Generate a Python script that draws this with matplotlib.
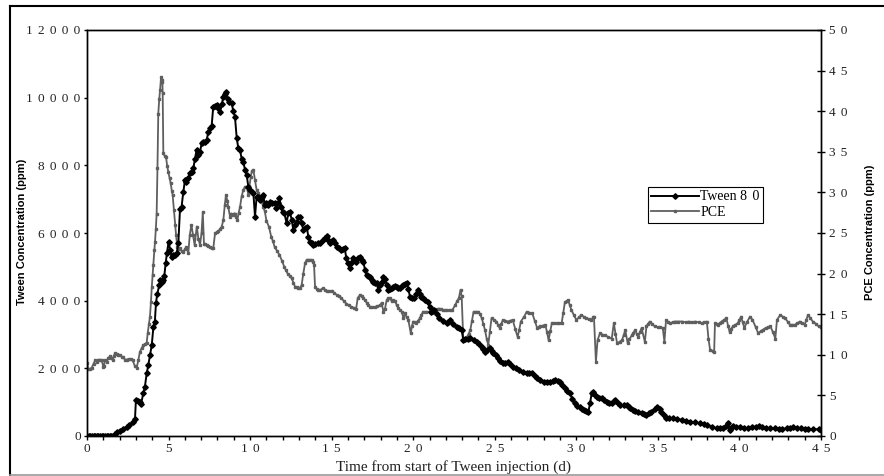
import matplotlib
matplotlib.use("Agg")
import matplotlib.pyplot as plt
from matplotlib.lines import Line2D
from matplotlib.ticker import MultipleLocator, FuncFormatter

# ---- data ----
tween_day = [
    0, 0.1, 0.2, 0.3, 0.4, 0.5, 0.6, 0.7, 0.8, 0.9, 1.0, 1.1, 1.2, 1.3, 1.4, 1.5, 1.6,
    1.72, 1.85, 2.02, 2.2, 2.43, 2.6, 2.84, 2.94, 3.0, 3.1, 3.25, 3.32, 3.45, 3.55,
    3.66, 3.76, 3.87, 3.97, 4.07, 4.16, 4.23, 4.31, 4.43, 4.5, 4.57, 4.66, 4.74, 4.82,
    4.9, 5.0, 5.1, 5.19, 5.3, 5.4, 5.5, 5.6, 5.7, 5.8, 5.9, 6.01, 6.1, 6.21, 6.31,
    6.42, 6.52, 6.62, 6.72, 6.83, 6.93, 7.03, 7.13, 7.24, 7.34, 7.44, 7.54, 7.64,
    7.74, 7.85, 7.95, 8.05, 8.15, 8.26, 8.36, 8.46, 8.52, 8.62, 8.73, 8.87, 8.97,
    9.07, 9.18, 9.28, 9.38, 9.48, 9.58, 9.69, 9.79, 9.89, 10.0, 10.1, 10.2, 10.3,
    10.4, 10.5, 10.6, 10.7, 10.8, 10.9, 11.0, 11.1, 11.2, 11.35, 11.5, 11.6, 11.7,
    11.8, 11.9, 12.0, 12.1, 12.24, 12.34, 12.44, 12.55, 12.65, 12.75, 12.86, 12.96,
    13.06, 13.16, 13.26, 13.37, 13.47, 13.57, 13.67, 13.78, 13.88, 14.0, 14.18,
    14.3, 14.49, 14.6, 14.7, 14.8, 14.9, 15.0, 15.1, 15.2, 15.31, 15.45, 15.6, 15.7,
    15.8, 15.9, 16.0, 16.1, 16.2, 16.3, 16.4, 16.5, 16.6, 16.74, 16.84, 16.94,
    17.05, 17.15, 17.25, 17.35, 17.45, 17.55, 17.66, 17.76, 17.86, 17.96, 18.07,
    18.17, 18.27, 18.37, 18.47, 18.58, 18.68, 18.78, 18.89, 18.99, 19.09, 19.19,
    19.3, 19.4, 19.5, 19.6, 19.7, 19.8, 19.9, 20.07, 20.2, 20.3, 20.4, 20.5, 20.6,
    20.75, 20.9, 21.0, 21.1, 21.2, 21.3, 21.45, 21.6, 21.8, 22.05, 22.15, 22.26,
    22.45, 22.67, 22.8, 22.97, 23.07, 23.2, 23.35, 23.48, 23.7, 23.9, 24.05, 24.2,
    24.3, 24.4, 24.55, 24.7, 24.8, 24.9, 25.05, 25.2, 25.35, 25.5, 25.65, 25.8,
    25.95, 26.1, 26.3, 26.5, 26.7, 26.96, 27.1, 27.3, 27.45, 27.6, 27.8, 28.0, 28.2,
    28.4, 28.55, 28.7, 28.85, 29.0, 29.15, 29.3, 29.45, 29.6, 29.75, 29.9, 30.05,
    30.2, 30.35, 30.5, 30.62, 30.74, 30.84, 30.94, 31.04, 31.15, 31.25, 31.4, 31.56,
    31.7, 31.86, 32.0, 32.17, 32.3, 32.4, 32.55, 32.68, 32.9, 33.1, 33.2, 33.3,
    33.45, 33.6, 33.8, 34.0, 34.15, 34.3, 34.45, 34.6, 34.8, 34.97, 35.1, 35.2,
    35.35, 35.5, 35.7, 35.95, 36.2, 36.5, 36.75, 36.97, 37.3, 37.6, 37.8, 38.0,
    38.3, 38.6, 38.8, 39.0, 39.15, 39.3, 39.4, 39.5, 39.6, 39.8, 40.04, 40.3, 40.5,
    40.8, 41.0, 41.2, 41.4, 41.6, 41.9, 42.2, 42.4, 42.6, 42.9, 43.1, 43.3, 43.55,
    43.8, 44.0, 44.2, 44.5, 44.85, 45.0,
]
tween_ppm = [
    0, 0, 0, 0, 0, 0, 0, 0, 0, 0, 0, 0, 0, 0, 0, 0, 0,
    60, 130, 150, 200, 276, 330, 424, 488, 1064, 1040, 1000, 950, 1270, 1458,
    1853, 2100, 2400, 2690, 3212, 3380, 3941, 4200, 4464, 4612, 4550, 4612, 4730, 5100,
    5400, 5744, 5500, 5300, 5350, 5350, 5400, 5696, 6700, 6778, 7200, 7567, 7500, 7617, 7765,
    7800, 7913, 8200, 8454, 8300, 8405, 8650, 8700, 8700, 8750, 9000, 9095, 9150,
    9734, 9750, 9784, 9700, 9587, 9800, 10030, 10100, 10178, 9950, 9882, 9833, 9600,
    9438, 8800, 8500, 8454, 8200, 8109, 7863, 7715, 7370, 7272, 7222, 7174, 6482,
    7075, 7075, 6976, 7075, 7124, 6830, 6878, 6830, 6926, 6878, 6878, 6730, 6880,
    7026, 6778, 6631, 6583, 6287, 6600, 6631, 6385, 6089, 6250, 6336, 6480,
    6482, 6300, 6089, 6150, 6188, 5891, 5744, 5700, 5646, 5680, 5696,
    5696, 5794, 5850, 5912, 5800, 5696, 5750, 5794, 5700, 5596, 5550, 5498, 5520,
    5548, 5252, 5100, 4957, 5100, 5252, 5200, 5152, 5250, 5300, 5200, 5152,
    4900, 4759, 4720, 4709, 4600, 4561, 4530, 4512, 4316, 4450, 4561,
    4709, 4650, 4450, 4316, 4340, 4366, 4400, 4420, 4414, 4380, 4366,
    4420, 4464, 4500, 4512, 4350, 4118, 4080, 4070, 4200, 4316, 4200, 4100, 4070,
    4020, 3970, 3800, 3675, 3700, 3724, 3600, 3479, 3400, 3331, 3380, 3429,
    3300, 3231, 3180, 3133, 2838, 2860, 2870, 2888, 2830, 2788, 2720, 2640,
    2560, 2492, 2540, 2592, 2500, 2445, 2380, 2297, 2220, 2149, 2170, 2196,
    2120, 2049, 2000, 1951, 1900, 1853, 1860, 1853, 1780, 1706, 1650, 1605, 1600,
    1605, 1630, 1655, 1630, 1605, 1500, 1410, 1330, 1262, 1100, 967, 900,
    867, 800, 769, 740, 718, 967, 1262, 1310, 1200, 1162, 1130, 1114,
    1060, 1014, 990, 967, 1030, 1064, 980, 916, 916, 916, 870, 819,
    780, 748, 700, 670, 640, 621, 680, 718, 800, 867, 800, 718,
    620, 523, 520, 523, 500, 473, 450, 423, 400, 375, 350, 325,
    280, 228, 228, 228, 300, 375, 177, 250, 296, 280, 275, 250, 228,
    260, 280, 296, 260, 228, 228, 228, 210, 198, 230, 250, 257, 240,
    228, 210, 198, 200, 198, 170,
]

pce_day = [
    0, 0.08, 0.2, 0.29, 0.4, 0.5, 0.6, 0.7, 0.8, 0.9, 1.0, 1.04, 1.1, 1.21, 1.3, 1.41,
    1.5, 1.57, 1.65, 1.72, 1.82, 1.92, 2.02, 2.13, 2.23, 2.33, 2.43, 2.55, 2.7, 2.8,
    2.94, 3.05, 3.15, 3.25, 3.35, 3.45, 3.55, 3.66, 3.72, 3.8, 3.86, 3.92, 3.97, 4.02,
    4.07, 4.13, 4.17, 4.22, 4.27, 4.32, 4.37, 4.43, 4.48, 4.54, 4.58, 4.62, 4.64, 4.68,
    4.76, 4.84, 4.92, 4.99, 5.06, 5.13, 5.2, 5.25, 5.33, 5.4, 5.46, 5.54, 5.62, 5.7,
    5.8, 5.9, 6.0, 6.1, 6.21, 6.3, 6.4, 6.5, 6.6, 6.73, 6.83, 6.93, 7.02, 7.1, 7.17,
    7.25, 7.34, 7.44, 7.54, 7.64, 7.74, 7.85, 7.95, 8.05, 8.16, 8.26, 8.36, 8.45,
    8.52, 8.6, 8.66, 8.77, 8.85, 8.93, 9.0, 9.07, 9.15, 9.22, 9.3, 9.38, 9.48, 9.58,
    9.69, 9.79, 9.89, 9.96, 10.04, 10.1, 10.2, 10.3, 10.4, 10.5, 10.6, 10.7, 10.8,
    10.9, 11.0, 11.15, 11.3, 11.4, 11.5, 11.65, 11.8, 11.95, 12.1, 12.2, 12.3, 12.43,
    12.55, 12.65, 12.75, 12.86, 12.96, 13.06, 13.16, 13.26, 13.37, 13.47, 13.57,
    13.68, 13.78, 13.88, 13.92, 13.98, 14.08, 14.18, 14.3, 14.49, 14.6, 14.7, 14.85,
    15.04, 15.15, 15.3, 15.45, 15.6, 15.75, 15.9, 16.05, 16.2, 16.35, 16.5, 16.6,
    16.74, 16.84, 16.94, 17.05, 17.15, 17.25, 17.35, 17.5, 17.66, 17.8, 17.96, 18.07,
    18.17, 18.27, 18.37, 18.47, 18.58, 18.68, 18.78, 18.89, 18.99, 19.09, 19.19,
    19.3, 19.4, 19.5, 19.6, 19.7, 19.85, 19.92, 20.0, 20.1, 20.2, 20.3, 20.4, 20.5,
    20.6, 20.8, 21.0, 21.15, 21.3, 21.45, 21.6, 21.7, 21.8, 21.95, 22.05, 22.25,
    22.4, 22.56, 22.7, 22.8, 22.9, 22.97, 23.07, 23.2, 23.3, 23.4, 23.5, 23.6, 23.7,
    23.85, 24.0, 24.1, 24.2, 24.3, 24.4, 24.5, 24.6, 24.7, 24.8, 24.95, 25.1, 25.2,
    25.3, 25.4, 25.5, 25.65, 25.8, 25.95, 26.1, 26.25, 26.4, 26.5, 26.6, 26.8, 26.96,
    27.1, 27.3, 27.45, 27.6, 27.7, 27.8, 27.95, 28.1, 28.2, 28.3, 28.4, 28.5, 28.65,
    28.8, 28.95, 29.1, 29.2, 29.3, 29.4, 29.5, 29.6, 29.7, 29.85, 30.0, 30.15, 30.3,
    30.45, 30.6, 30.75, 30.9, 31.04, 31.08, 31.2, 31.3, 31.45, 31.6, 31.76, 31.95,
    32.17, 32.3, 32.4, 32.5, 32.65, 32.8, 32.9, 33.0, 33.15, 33.25, 33.4, 33.5, 33.6,
    33.7, 33.8, 33.9, 34.0, 34.2, 34.3, 34.4, 34.5, 34.65, 34.8, 35.0, 35.15, 35.3,
    35.4, 35.5, 35.6, 35.75, 35.9, 36.05, 36.25, 36.5, 36.7, 36.9, 37.1, 37.3, 37.5,
    37.7, 37.85, 38.0, 38.1, 38.2, 38.35, 38.45, 38.5, 38.6, 38.7, 38.8, 38.9, 39.05,
    39.2, 39.3, 39.4, 39.5, 39.6, 39.75, 39.9, 40.0, 40.1, 40.2, 40.3, 40.45, 40.65,
    40.8, 41.0, 41.15, 41.3, 41.45, 41.6, 41.75, 41.9, 42.05, 42.2, 42.3, 42.5,
    42.65, 42.8, 42.95, 43.1, 43.25, 43.4, 43.55, 43.7, 43.85, 44.0, 44.1, 44.2,
    44.35, 44.5, 44.7, 44.85, 45.0,
]
pce_ppm = [
    9.0, 8.2, 8.3, 8.4, 8.9, 9.3, 9.15, 9.4, 9.4, 9.36, 8.5, 8.6, 9.3, 9.15, 9.6, 9.8,
    9.6, 9.36, 9.9, 10.2, 10.1, 10.0, 9.97, 9.77, 9.7, 9.4, 9.4, 9.5, 9.44, 9.3,
    8.6, 8.4, 9.4, 10.4, 10.8, 11.2, 11.3, 11.5, 12.65, 13.8, 14.7, 16.5, 18.3, 19.8,
    21.1, 22.9, 23.9, 25.5, 27.4, 33.0, 39.7, 41.5, 42.6, 44.2, 43.6, 43.8, 42.2, 34.8,
    34.5, 34.4, 33.2, 32.5, 31.8, 31.1, 30.2, 29.7, 27.8, 26.0, 24.75, 23.3, 23.0, 23.1,
    22.8, 22.7, 23.0, 23.3, 22.5, 24.75, 26.0, 24.75, 23.5, 25.8, 24.3, 23.5, 25.0, 27.6, 23.7,
    23.6, 23.5, 23.4, 23.3, 23.2, 23.1, 24.95, 25.1, 25.2, 25.5, 25.8, 26.6, 28.5,
    29.7, 29.0, 28.2, 27.0, 27.4, 27.2, 27.4, 27.4, 27.0, 26.6, 27.5, 28.2, 29.5, 30.3,
    30.7, 30.7, 29.7, 30.8, 31.9, 32.6, 32.8, 31.5, 30.3, 29.9, 29.5, 29.0, 28.2,
    27.7, 26.5, 25.8, 24.5, 24.0, 23.3, 22.8, 22.3, 21.6, 20.8, 20.4, 20.0, 19.7,
    19.4, 18.9, 18.4, 18.3, 18.2, 18.2, 18.6, 20.0, 21.3, 21.7, 21.7,
    21.7, 21.7, 21.4, 21.1, 18.4, 18.1, 18.0, 18.0, 18.2, 18.0, 17.8, 17.8,
    17.9, 17.6, 17.4, 17.2, 17.0, 16.6, 16.3, 16.1, 15.9, 15.8, 15.7, 17.0,
    17.4, 17.2, 17.0, 16.7, 16.4, 16.1, 15.9, 15.9, 15.9, 16.0, 16.1, 16.4,
    15.3, 15.7, 16.7, 17.0, 17.0, 16.6, 16.7, 16.6, 16.1, 15.8, 15.5,
    15.3, 14.5, 15.1, 14.6, 14.3, 12.65, 13.5, 14.1, 14.0, 13.9, 14.2, 14.5, 14.9,
    15.3, 15.3, 15.3, 15.4, 15.5, 15.6, 15.7, 15.6, 15.5, 15.5, 15.5, 15.5,
    15.5, 16.1, 16.6, 17.0, 18.0, 17.2, 11.8, 12.0, 12.2, 12.6, 13.05, 14.2, 15.3,
    15.3, 15.3, 15.0, 14.5, 13.8, 13.05, 12.0, 11.2, 12.8, 14.5, 14.3, 14.1, 13.7,
    13.3, 13.8, 14.3, 14.2, 14.1, 14.2, 14.3, 13.2, 12.2, 13.1, 14.1, 14.7, 15.3,
    15.2, 15.1, 14.2, 13.3, 13.4, 13.5, 13.6, 13.7, 12.8, 11.8, 12.9, 13.9, 13.9,
    13.9, 13.9, 13.9, 15.2, 16.5, 16.6, 16.7, 16.1, 15.5, 14.9, 14.3, 14.6, 14.9,
    14.7, 14.5, 14.4, 14.3, 14.6, 14.7, 9.15, 11.8, 12.65, 12.5, 12.4, 12.2,
    12.0, 13.9, 12.6, 11.4, 11.6, 11.8, 12.4, 13.05, 11.4, 11.9, 12.4, 12.7, 13.05,
    12.6, 12.2, 12.8, 13.3, 11.6, 13.5, 13.8, 14.1, 13.8, 13.5, 13.4, 13.4, 13.3,
    11.6, 14.3, 14.1, 13.9, 14.0, 14.1, 14.1, 14.1, 14.0, 14.1, 14.0, 14.1, 14.0,
    13.9, 14.0, 14.1, 12.0, 10.6, 10.5, 10.4, 13.9, 13.8, 13.7, 13.9, 14.1, 14.3,
    14.5, 13.6, 12.8, 13.2, 13.5, 13.7, 13.9, 14.3, 14.7, 14.0, 13.3, 14.0, 14.7,
    14.3, 13.4, 12.65, 12.9, 13.1, 13.3, 13.4, 13.5, 12.8, 12.0, 14.3, 14.9,
    14.7, 14.5, 14.1, 13.7, 13.7, 13.7, 13.9, 14.1, 13.9, 13.7, 14.3, 14.9,
    14.5, 14.1, 13.8, 13.5, 13.4,
]

SERIF = ["Liberation Serif", "DejaVu Serif"]
SANS = ["Liberation Sans", "DejaVu Sans"]
PCE_GREY = "#5f5f5f"
GAP = "\u2009\u2009"


def spaced(v, pos=None):
    # the original spreads the digits of every tick label
    return GAP.join(str(int(round(v))))


fig = plt.figure(figsize=(8.84, 4.76), dpi=100)
W, H = 884, 476
ax = fig.add_axes([87 / W, 1 - 436 / H, (821 - 87) / W, (436 - 30) / H])
ax2 = ax.twinx()

ax2.plot(pce_day, pce_ppm, color=PCE_GREY, lw=1.3, marker="s", ms=1.8,
         mec=PCE_GREY, mfc=PCE_GREY, label="PCE")
ax.plot(tween_day, tween_ppm, color="black", lw=1.4, marker="D", ms=2.8,
        mec="black", mfc="black", label="Tween 8" + GAP + "0")
ax.set_zorder(ax2.get_zorder() + 1)
ax.patch.set_visible(False)

ax.set_xlim(0, 45)
ax.set_ylim(0, 12000)
ax2.set_ylim(0, 50)
ax.xaxis.set_major_locator(MultipleLocator(5))
ax.xaxis.set_minor_locator(MultipleLocator(1))
ax.yaxis.set_major_locator(MultipleLocator(2000))
ax2.yaxis.set_major_locator(MultipleLocator(5))
for a in (ax, ax2):
    for s in a.spines.values():
        s.set_linewidth(1.0)
ax.xaxis.set_major_formatter(FuncFormatter(spaced))
ax.yaxis.set_major_formatter(FuncFormatter(spaced))
ax2.yaxis.set_major_formatter(FuncFormatter(spaced))

ax.tick_params(axis="x", which="both", direction="out", length=3, width=1.0, pad=2)
ax.tick_params(axis="y", direction="out", length=2.5, width=1.0, pad=2)
ax2.tick_params(axis="y", direction="inout", length=6, width=1.0, pad=3)
for lab in ax.get_xticklabels() + ax.get_yticklabels() + ax2.get_yticklabels():
    lab.set_family(SERIF)
    lab.set_fontsize(9.5)
    lab.set_color("#222222")

fig.text(454 / W, 1 - 467 / H, "Time from start of Tween injection (d)",
         family=SERIF, fontsize=11, ha="center", va="center", color="#222222")
fig.text(22 / W, 1 - 232 / H, "Tween Concentration (ppm)", family=SANS,
         fontsize=8, fontweight="bold", rotation=90, ha="center", va="center")
fig.text(870 / W, 1 - 232 / H, "PCE Concentration (ppm)", family=SANS,
         fontsize=8, fontweight="bold", rotation=90, ha="center", va="center")

h1, l1 = ax.get_legend_handles_labels()
h2, l2 = ax2.get_legend_handles_labels()
leg = fig.legend(h1 + h2, l1 + l2, loc="upper left",
                 bbox_to_anchor=(648 / W, 1 - 187 / H), frameon=True,
                 fancybox=False, edgecolor="black", framealpha=1,
                 prop={"family": SERIF, "size": 10}, handlelength=3.4,
                 handletextpad=0.1, borderpad=0.25, labelspacing=0.2,
                 borderaxespad=0)
leg.get_frame().set_linewidth(0.8)

# outer frame of the original figure
fig.add_artist(Line2D([9.5 / W, 9.5 / W], [1 - 6 / H, 1 - 475 / H],
                      transform=fig.transFigure, color="black", lw=1.5))
fig.add_artist(Line2D([9.5 / W, 1], [1 - 6 / H, 1 - 6 / H],
                      transform=fig.transFigure, color="black", lw=1.5))
fig.add_artist(Line2D([9.5 / W, 1], [1 - 475 / H, 1 - 475 / H],
                      transform=fig.transFigure, color="#9a9a9a", lw=1.2))

fig.savefig("out.png", dpi=100)
